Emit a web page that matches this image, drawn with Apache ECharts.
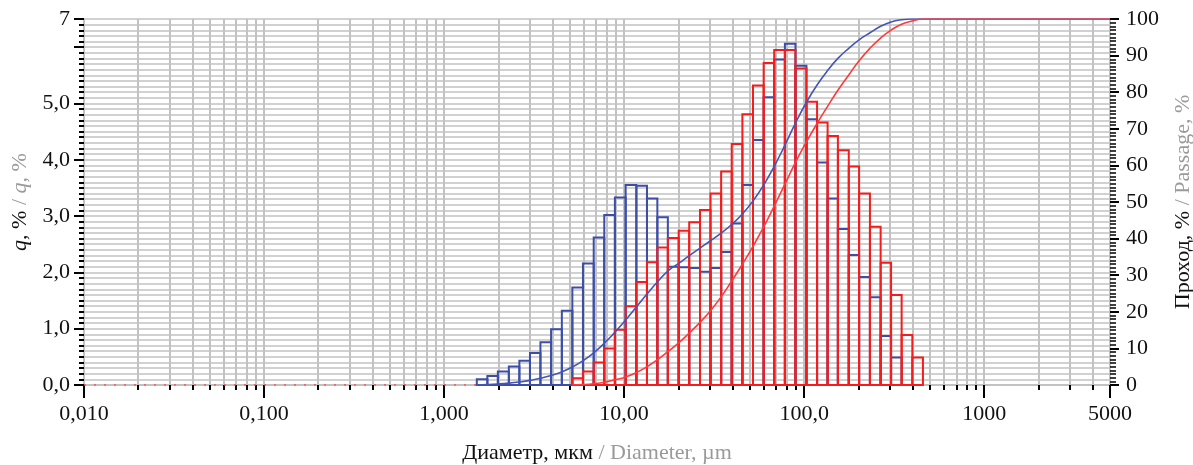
<!DOCTYPE html>
<html>
<head>
<meta charset="utf-8">
<script src="https://cdn.jsdelivr.net/npm/echarts@6/dist/echarts.min.js"></script>
<style>
html, body { margin: 0; padding: 0; background: #fff; }
#chart { width: 1193px; height: 465px; }
</style>
</head>
<body>
<div id="chart"></div>
<script>
// границы фракций, мкм
var binEdges = [1.52, 1.74, 1.99, 2.29, 2.62, 3.00, 3.43, 3.93, 4.51, 5.16, 5.91, 6.78, 7.76, 8.89,
    10.2, 11.7, 13.4, 15.3, 17.5, 20.1, 23.0, 26.4, 30.2, 34.6, 39.6, 45.4, 52.0, 59.6, 68.2, 78.2,
    89.5, 103, 118, 135, 154, 177, 202, 232, 266, 304, 348, 399, 457]

// q, % (синяя проба)
var blueQ = [0.10, 0.16, 0.24, 0.33, 0.43, 0.57, 0.76, 0.99, 1.32, 1.73, 2.16, 2.62, 3.02, 3.33,
    3.55, 3.54, 3.31, 2.98, 2.10, 2.09, 2.08, 2.01, 2.08, 2.36, 2.87, 3.55, 4.35, 5.11, 5.78, 6.06,
    5.67, 4.72, 3.95, 3.31, 2.77, 2.31, 1.92, 1.56, 0.87, 0.49, 0, 0]

// q, % (красная проба)
var redQ = [0, 0, 0, 0, 0, 0, 0, 0, 0, 0.12, 0.24, 0.40, 0.65, 0.98, 1.40, 1.83, 2.18, 2.44, 2.61,
    2.74, 2.89, 3.11, 3.40, 3.79, 4.28, 4.81, 5.32, 5.72, 5.95, 5.95, 5.62, 5.03, 4.66, 4.42, 4.17,
    3.88, 3.40, 2.81, 2.17, 1.60, 0.89, 0.49]

// проход, % на границах фракций
var bluePassage = [0, 0.10, 0.26, 0.50, 0.83, 1.26, 1.83, 2.59, 3.58, 4.90, 6.63, 8.79, 11.41, 14.43,
    17.76, 21.31, 24.85, 28.16, 31.14, 33.24, 35.33, 37.41, 39.42, 41.50, 43.86, 46.73, 50.28, 54.63,
    59.74, 65.52, 71.58, 77.25, 81.97, 85.92, 89.23, 92.00, 94.31, 96.23, 98.0, 99.2, 99.8, 100, 100]

var redPassage = [0, 0, 0, 0, 0, 0, 0, 0, 0, 0, 0.12, 0.36, 0.76, 1.41, 2.2, 3.4, 5.0, 6.9, 9.1, 11.5,
    14.2, 17.1, 20.3, 24.1, 28.4, 33.0, 37.87, 43.19, 48.91, 54.86, 60.81, 66.43, 71.46, 76.12, 80.54,
    84.71, 88.59, 91.99, 94.80, 96.97, 98.57, 99.46, 100]

// подписи осей
var xMajorTicks = [0.01, 0.1, 1, 10, 100, 1000, 5000]
var xMajorLabels = ['0,010', '0,100', '1,000', '10,00', '100,0', '1000', '5000']
var xMinorTicks = [0.02, 0.03, 0.04, 0.05, 0.06, 0.07, 0.08, 0.09,
    0.2, 0.3, 0.4, 0.5, 0.6, 0.7, 0.8, 0.9,
    2, 3, 4, 5, 6, 7, 8, 9,
    20, 30, 40, 50, 60, 70, 80, 90,
    200, 300, 400, 500, 600, 700, 800, 900,
    2000, 3000, 4000]
var qTickLabels = ['0,0', '1,0', '2,0', '3,0', '4,0', '5,0', '', '7']

var FONT = '"Liberation Serif", "Times New Roman", serif'
var FS = 22
var GRID = '#c2c2c2'
var BLUE = '#3c4ea6'
var RED = '#f41c1c'
var GREY = '#9a9a9a'

var myEcharts = echarts.init(document.getElementById('chart'))

// гистограмма: прямоугольники без заливки
function histSeries(values, color, z) {
    var data = []
    for (var i = 0; i < values.length; i++) {
        if (values[i] > 0) data.push([binEdges[i], binEdges[i + 1], values[i]])
    }
    return {
        type: 'custom',
        xAxisIndex: 0,
        yAxisIndex: 0,
        z: z,
        silent: true,
        encode: { x: [0, 1], y: 2 },
        renderItem: function(params, api) {
            var p0 = api.coord([api.value(0), api.value(2)])
            var p1 = api.coord([api.value(1), 0])
            return {
                type: 'rect',
                shape: { x: p0[0], y: p0[1], width: p1[0] - p0[0], height: p1[1] - p0[1] },
                style: { fill: 'none', stroke: color, lineWidth: 2 }
            }
        },
        data: data
    }
}

// кривая прохода
function passageSeries(values, color, z) {
    var data = []
    for (var i = 0; i < values.length; i++) {
        if (values[i] > 0 || (i + 1 < values.length && values[i + 1] > 0)) data.push([binEdges[i], values[i]])
    }
    data.push([xMajorTicks[xMajorTicks.length - 1], 100])
    return {
        type: 'line',
        xAxisIndex: 0,
        yAxisIndex: 2,
        z: z,
        silent: true,
        showSymbol: false,
        smooth: 0.5,
        lineStyle: { color: color, width: 1.6 },
        data: data
    }
}

var firstRed = 0
while (redQ[firstRed] === 0) firstRed++

// стили подписей осей (чёрный + серый английский)
var richName = {
    b: { fontFamily: FONT, fontSize: FS, color: '#111' },
    bi: { fontFamily: FONT, fontSize: FS, color: '#111', fontStyle: 'italic' },
    g: { fontFamily: FONT, fontSize: FS, color: GREY },
    gi: { fontFamily: FONT, fontSize: FS, color: GREY, fontStyle: 'italic' }
}

var option = {
    animation: false,
    grid: { left: 84, right: 83, top: 19, bottom: 80, containLabel: false, outerBoundsMode: 'none' },
    xAxis: [{
        type: 'log',
        logBase: 10,
        min: xMajorTicks[0],
        max: xMajorTicks[xMajorTicks.length - 1],
        position: 'bottom',
        axisLine: { show: true, lineStyle: { color: GRID, width: 2 } },
        axisTick: { show: true, customValues: xMajorTicks, length: 13, lineStyle: { color: '#000', width: 2 } },
        axisLabel: {
            customValues: xMajorTicks,
            margin: 18,
            fontFamily: FONT,
            fontSize: FS,
            color: '#111',
            formatter: function(v) {
                for (var i = 0; i < xMajorTicks.length; i++) {
                    if (Math.abs(Math.log10(v / xMajorTicks[i])) < 1e-6) return xMajorLabels[i]
                }
                return ''
            }
        },
        splitLine: { show: true, lineStyle: { color: GRID, width: 2 } },
        name: '{b|Диаметр, мкм}{g| / Diameter, µm}',
        nameLocation: 'middle',
        nameGap: 57,
        nameTextStyle: { rich: richName }
    }, {
        type: 'log',
        logBase: 10,
        min: xMajorTicks[0],
        max: xMajorTicks[xMajorTicks.length - 1],
        position: 'bottom',
        axisLine: { show: false },
        axisLabel: { show: false },
        axisTick: { show: true, customValues: xMinorTicks, length: 5, lineStyle: { color: '#000', width: 2 } },
        splitLine: { show: true, lineStyle: { color: GRID, width: 2 } }
    }],
    yAxis: [{
        type: 'value',
        position: 'left',
        min: 0,
        max: 6.5,
        interval: 1,
        axisLine: { show: true, lineStyle: { color: GRID, width: 2 } },
        axisTick: { show: true, length: 10, lineStyle: { color: '#000', width: 2 } },
        axisLabel: {
            margin: 14,
            showMaxLabel: true,
            fontFamily: FONT,
            fontSize: FS,
            color: '#111',
            formatter: function(v) {
                return v === 6.5 ? qTickLabels[7] : qTickLabels[Math.round(v)]
            }
        },
        splitLine: { show: false },
        name: '{bi|q}{b|, %}{g| / }{gi|q}{g|, %}',
        nameLocation: 'middle',
        nameGap: 53,
        nameTextStyle: { rich: richName }
    }, {
        type: 'value',
        position: 'left',
        min: 0,
        max: 6.5,
        interval: 0.1,
        axisLine: { show: false },
        axisTick: { show: true, length: 5, lineStyle: { color: '#000', width: 2 } },
        axisLabel: { show: false },
        splitLine: { show: true, lineStyle: { color: GRID, width: 1.5 } }
    }, {
        type: 'value',
        position: 'right',
        min: 0,
        max: 100,
        interval: 10,
        axisLine: { show: true, lineStyle: { color: GRID, width: 2 } },
        axisTick: { show: true, length: 9, lineStyle: { color: '#000', width: 2 } },
        minorTick: { show: true, splitNumber: 10, length: 6, lineStyle: { color: '#000', width: 1.5 } },
        axisLabel: { margin: 16, fontFamily: FONT, fontSize: FS, color: '#111' },
        splitLine: { show: false },
        name: '{b|Проход, %}{g| / Passage, %}',
        nameLocation: 'middle',
        nameGap: 62,
        nameTextStyle: { rich: richName }
    }],
    series: [
        // нулевая линия пунктиром
        {
            type: 'line',
            xAxisIndex: 0,
            yAxisIndex: 2,
            z: 2,
            silent: true,
            showSymbol: false,
            lineStyle: { color: '#ff4a4a', width: 1.5, type: [2, 8] },
            data: [[xMajorTicks[0], 0], [binEdges[firstRed], 0]]
        },
        histSeries(blueQ, BLUE, 3),
        histSeries(redQ, RED, 4),
        passageSeries(bluePassage, '#4355b5', 5),
        passageSeries(redPassage, '#ff3a3a', 6)
    ]
}

myEcharts.setOption(option)
</script>
</body>
</html>
